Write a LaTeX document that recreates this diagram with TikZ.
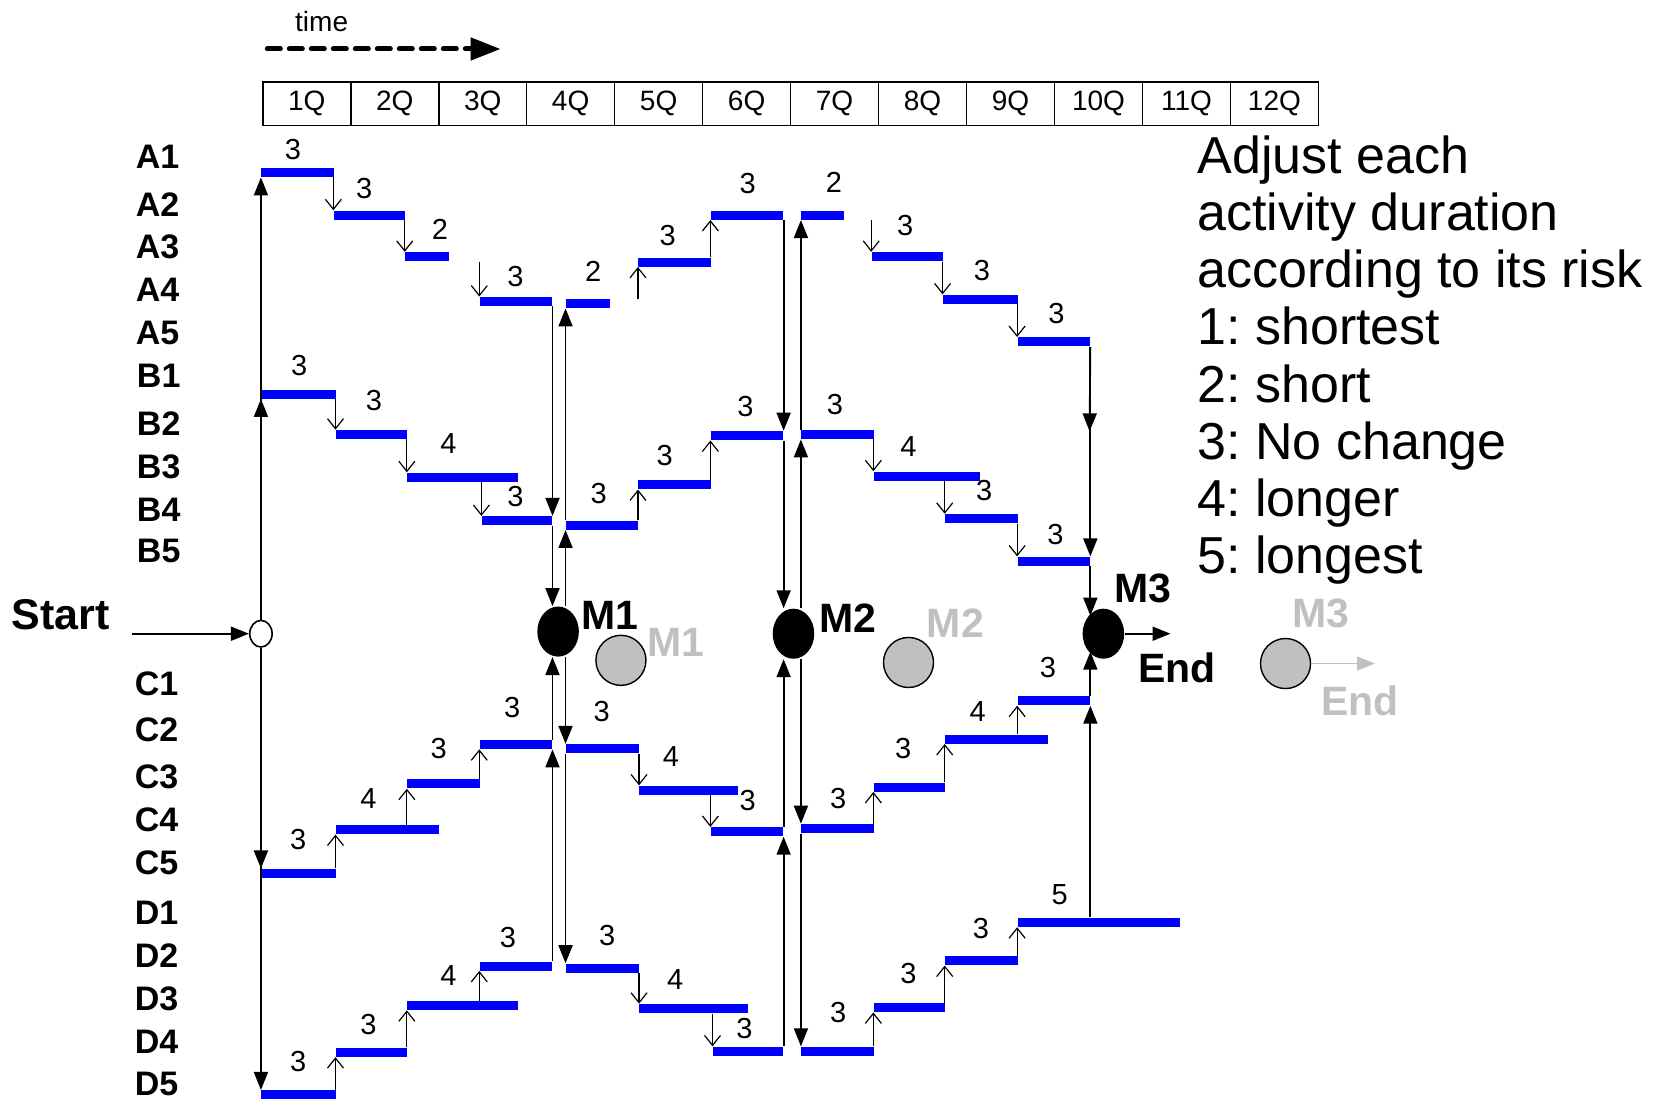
\documentclass[tikz,border=0pt]{standalone}
\usepackage{fontspec}
\setmainfont{Liberation Sans}
\usetikzlibrary{arrows.meta,positioning,shapes.geometric}
\definecolor{silver}{RGB}{192,192,192}
\frenchspacing
\tikzset{
  actbar/.style={rectangle, fill=blue, inner sep=0pt, minimum height=4.5pt, minimum width=#1*0.5325pt, anchor=west},
  num/.style={inner sep=0pt, font=\fontsize{14.5}{16}\selectfont},
  row/.style={inner sep=0pt, font=\fontsize{17}{19}\selectfont\bfseries},
  mlabel/.style={inner sep=0pt, font=\fontsize{20.5}{22}\selectfont\bfseries},
  link/.style={line width=0.6pt, -{Straight Barb[length=5pt,width=8pt]}},
  flow/.style={line width=0.9pt, -{Triangle[length=9pt,width=7pt]}},
  qbox/.style={draw, line width=0.8pt, inner sep=0pt, outer sep=0pt, minimum width=82.6*0.5325pt, minimum height=41*0.5325pt, font=\fontsize{14}{16}\selectfont},
  mnode/.style={ellipse, fill=black, inner sep=0pt, minimum width=39*0.5325pt, minimum height=47*0.5325pt},
  ghost/.style={circle, draw, line width=0.7pt, fill=silver, inner sep=0pt, minimum size=47*0.5325pt},
  legend/.style={anchor=north west, inner sep=0pt, align=left, font=\fontsize{26}{28.6}\selectfont},
}
\begin{document}
\begin{tikzpicture}[x=0.5325pt, y=-0.5325pt]
    \useasboundingbox (0,0) rectangle (1568,1033);
    % time axis
    \node[num, font=\fontsize{14}{16}\selectfont] (timelbl) at (302,20) {time};
    \coordinate (timefrom) at (251,46);
    \coordinate (timeto) at (470,46);
    \draw[line width=2.5pt, line cap=round, dash pattern=on 6.5pt off 4.5pt, -{Triangle[length=15pt,width=11pt]}] (timefrom) -- (timeto);
    \node[qbox] (q1) at (288,97.5) {1Q};
    \node[qbox, right=0pt of q1] (q2) {2Q};
    \node[qbox, right=0pt of q2] (q3) {3Q};
    \node[qbox, right=0pt of q3] (q4) {4Q};
    \node[qbox, right=0pt of q4] (q5) {5Q};
    \node[qbox, right=0pt of q5] (q6) {6Q};
    \node[qbox, right=0pt of q6] (q7) {7Q};
    \node[qbox, right=0pt of q7] (q8) {8Q};
    \node[qbox, right=0pt of q8] (q9) {9Q};
    \node[qbox, right=0pt of q9] (q10) {10Q};
    \node[qbox, right=0pt of q10] (q11) {11Q};
    \node[qbox, right=0pt of q11] (q12) {12Q};

    % row names
    \node[row] (rA1) at (148,147) {A1};
    \node[row] (rA2) at (148,192) {A2};
    \node[row] (rA3) at (148,232) {A3};
    \node[row] (rA4) at (148,272) {A4};
    \node[row] (rA5) at (148,313) {A5};
    \node[row] (rB1) at (149,353) {B1};
    \node[row] (rB2) at (149,398) {B2};
    \node[row] (rB3) at (149,438) {B3};
    \node[row] (rB4) at (149,479) {B4};
    \node[row] (rB5) at (149,517) {B5};
    \node[row] (rC1) at (147,642) {C1};
    \node[row] (rC2) at (147,685) {C2};
    \node[row] (rC3) at (147,729) {C3};
    \node[row] (rC4) at (147,770) {C4};
    \node[row] (rC5) at (147,810) {C5};
    \node[row] (rD1) at (147,857) {D1};
    \node[row] (rD2) at (147,897) {D2};
    \node[row] (rD3) at (147,938) {D3};
    \node[row] (rD4) at (147,978) {D4};
    \node[row] (rD5) at (147,1018) {D5};
    \node[mlabel, font=\fontsize{21.5}{23}\selectfont\bfseries] (startlbl) at (57,577) {Start};

    % A activities
    \node[actbar=68] (a11) at (245,162) {};
    \node[actbar=67] (a12) at (313,202) {};
    \node[actbar=41] (a13) at (380,241) {};
    \node[actbar=68] (a14) at (450,283) {};
    \node[actbar=41] (a21) at (531,285) {};
    \node[actbar=68] (a22) at (599,246) {};
    \node[actbar=68] (a23) at (667,202) {};
    \node[actbar=40] (a31) at (752,202) {};
    \node[actbar=67] (a32) at (818,241) {};
    \node[actbar=70] (a33) at (885,281) {};
    \node[actbar=68] (a34) at (955,321) {};
    \node[num] (na11) at (275,140) {3};
    \node[num] (na12) at (342,177) {3};
    \node[num] (na13) at (413,215) {2};
    \node[num] (na14) at (484,260) {3};
    \node[num] (na21) at (557,255) {2};
    \node[num] (na22) at (627,221) {3};
    \node[num] (na23) at (702,172) {3};
    \node[num] (na31) at (783,171) {2};
    \node[num] (na32) at (850,212) {3};
    \node[num] (na33) at (922,254) {3};
    \node[num] (na34) at (992,294) {3};

    % B activities
    \node[actbar=70] (b11) at (245,370) {};
    \node[actbar=67] (b12) at (315,408) {};
    \node[actbar=104] (b13) at (382,448) {};
    \node[actbar=66] (b14) at (452,489) {};
    \node[actbar=68] (b21) at (531,493) {};
    \node[actbar=68] (b22) at (599,455) {};
    \node[actbar=68] (b23) at (667,409) {};
    \node[actbar=68] (b31) at (752,408) {};
    \node[actbar=100] (b32) at (820,447) {};
    \node[actbar=68] (b33) at (887,487) {};
    \node[actbar=68] (b34) at (955,527) {};
    \node[num] (nb11) at (281,343) {3};
    \node[num] (nb12) at (351,376) {3};
    \node[num] (nb13) at (421,416) {4};
    \node[num] (nb14) at (484,466) {3};
    \node[num] (nb21) at (562,463) {3};
    \node[num] (nb22) at (624,428) {3};
    \node[num] (nb23) at (700,382) {3};
    \node[num] (nb31) at (784,380) {3};
    \node[num] (nb32) at (853,419) {4};
    \node[num] (nb33) at (924,461) {3};
    \node[num] (nb34) at (991,502) {3};

    % C activities
    \node[actbar=70] (c11) at (245,820) {};
    \node[actbar=97] (c12) at (315,779) {};
    \node[actbar=68] (c13) at (382,736) {};
    \node[actbar=68] (c14) at (450,699) {};
    \node[actbar=69] (c21) at (531,703) {};
    \node[actbar=93] (c22) at (600,742) {};
    \node[actbar=68] (c23) at (667,781) {};
    \node[actbar=68] (c31) at (752,778) {};
    \node[actbar=67] (c32) at (820,739) {};
    \node[actbar=97] (c33) at (887,694) {};
    \node[actbar=68] (c34) at (955,658) {};
    \node[num] (nc11) at (280,788) {3};
    \node[num] (nc12) at (346,750) {4};
    \node[num] (nc13) at (412,703) {3};
    \node[num] (nc14) at (481,664) {3};
    \node[num] (nc21) at (565,668) {3};
    \node[num] (nc22) at (630,710) {4};
    \node[num] (nc23) at (702,752) {3};
    \node[num] (nc31) at (787,750) {3};
    \node[num] (nc32) at (848,703) {3};
    \node[num] (nc33) at (918,668) {4};
    \node[num] (nc34) at (984,627) {3};

    % D activities
    \node[actbar=70] (d11) at (245,1028) {};
    \node[actbar=67] (d12) at (315,988) {};
    \node[actbar=104] (d13) at (382,944) {};
    \node[actbar=68] (d14) at (450,907) {};
    \node[actbar=69] (d21) at (531,909) {};
    \node[actbar=102] (d22) at (600,947) {};
    \node[actbar=66] (d23) at (669,987) {};
    \node[actbar=68] (d31) at (752,987) {};
    \node[actbar=67] (d32) at (820,946) {};
    \node[actbar=68] (d33) at (887,902) {};
    \node[actbar=153] (d34) at (955,866) {};
    \node[num] (nd11) at (280,997) {3};
    \node[num] (nd12) at (346,962) {3};
    \node[num] (nd13) at (421,916) {4};
    \node[num] (nd14) at (477,880) {3};
    \node[num] (nd21) at (570,878) {3};
    \node[num] (nd22) at (634,920) {4};
    \node[num] (nd23) at (699,966) {3};
    \node[num] (nd31) at (787,951) {3};
    \node[num] (nd32) at (853,914) {3};
    \node[num] (nd33) at (921,872) {3};
    \node[num] (nd34) at (995,840) {5};

    % steps inside each phase
    \draw[link] (a12.north west |- a11.south) -- (a12.north west);
    \draw[link] (a13.north west |- a12.south) -- (a13.north west);
    \draw[link] (a14.north west |- a13.south) -- (a14.north west);
    \draw[link] (a22.south west |- a21.north) -- (a22.south west);
    \draw[link] (a23.south west |- a22.north) -- (a23.south west);
    \draw[link] (a32.north west |- a31.south) -- (a32.north west);
    \draw[link] (a33.north west |- a32.south) -- (a33.north west);
    \draw[link] (a34.north west |- a33.south) -- (a34.north west);
    \draw[link] (b12.north west |- b11.south) -- (b12.north west);
    \draw[link] (b13.north west |- b12.south) -- (b13.north west);
    \draw[link] (b14.north west |- b13.south) -- (b14.north west);
    \draw[link] (b22.south west |- b21.north) -- (b22.south west);
    \draw[link] (b23.south west |- b22.north) -- (b23.south west);
    \draw[link] (b32.north west |- b31.south) -- (b32.north west);
    \draw[link] (b33.north west |- b32.south) -- (b33.north west);
    \draw[link] (b34.north west |- b33.south) -- (b34.north west);
    \draw[link] (c12.south west |- c11.north) -- (c12.south west);
    \draw[link] (c13.south west |- c12.north) -- (c13.south west);
    \draw[link] (c14.south west |- c13.north) -- (c14.south west);
    \draw[link] (c22.north west |- c21.south) -- (c22.north west);
    \draw[link] (c23.north west |- c22.south) -- (c23.north west);
    \draw[link] (c32.south west |- c31.north) -- (c32.south west);
    \draw[link] (c33.south west |- c32.north) -- (c33.south west);
    \draw[link] (c34.south west |- c33.north) -- (c34.south west);
    \draw[link] (d12.south west |- d11.north) -- (d12.south west);
    \draw[link] (d13.south west |- d12.north) -- (d13.south west);
    \draw[link] (d14.south west |- d13.north) -- (d14.south west);
    \draw[link] (d22.north west |- d21.south) -- (d22.north west);
    \draw[link] (d23.north west |- d22.south) -- (d23.north west);
    \draw[link] (d32.south west |- d31.north) -- (d32.south west);
    \draw[link] (d33.south west |- d32.north) -- (d33.south west);
    \draw[link] (d34.south west |- d33.north) -- (d34.south west);

    % milestones
    \node[mnode] (m1) at (524,593) {};
    \node[mnode] (m2) at (745,595) {};
    \node[mnode] (m3) at (1036,595) {};
    \node[mlabel] (m1lbl) at (573,578) {M1};
    \node[mlabel] (m2lbl) at (796,580) {M2};
    \node[mlabel] (m3lbl) at (1073,552) {M3};
    \node[mlabel] (endlbl) at (1105,627) {End};
    \node[ghost] (g1) at (583,620) {};
    \node[ghost] (g2) at (853,622) {};
    \node[ghost] (g3) at (1207,623) {};
    \node[mlabel, text=silver] (g1lbl) at (635,603) {M1};
    \node[mlabel, text=silver] (g2lbl) at (897,585) {M2};
    \node[mlabel, text=silver] (g3lbl) at (1240,576) {M3};
    \node[mlabel, text=silver] (gendlbl) at (1277,658) {End};
    \coordinate (gendtip) at (1291,623);
    \draw[flow, line width=0.7pt, draw=silver] (g3.east) -- (gendtip);

    % start
    \node[ellipse, draw, fill=white, line width=0.8pt, inner sep=0pt, minimum width=21*0.5325pt, minimum height=25*0.5325pt] (start) at (245,595) {};
    \coordinate (startin) at (124,595);
    \draw[flow] (startin) -- (start.west);
    \draw[flow] (start.north) -- (a11.south west);
    \draw[flow] (start.north) -- (b11.south west);
    \draw[flow] (start.south) -- (c11.north west);
    \draw[flow] (start.south) -- (d11.north west);

    % into and out of M1
    \draw[flow] (a14.south east) -- (b14.north east);
    \draw[flow] (b14.south east) -- (b14.south east |- m1.north);
    \draw[flow] (m1.north -| b21.west) -- (b21.south west);
    \draw[flow] (b21.north west) -- (a21.south west);
    \draw[flow] (d14.north east) -- (c14.south east);
    \draw[flow] (c14.north east) -- (c14.east |- m1.south);
    \draw[flow] (m1.south -| c21.west) -- (c21.north west);
    \draw[flow] (c21.south west) -- (d21.north west);

    % into and out of M2
    \draw[flow] (a23.south east) -- (b23.north east);
    \draw[flow] (b23.south east) -- (b23.south east |- m2.north);
    \draw[flow] (m2.north -| b31.west) -- (b31.south west);
    \draw[flow] (b31.north west) -- (a31.south west);
    \draw[flow] (d23.north east) -- (c23.south east);
    \draw[flow] (c23.north east) -- (c23.east |- m2.south);
    \draw[flow] (m2.south -| c31.west) -- (c31.north west);
    \draw[flow] (c31.south west) -- (d31.north west);

    % into M3 and out to the end
    \coordinate (a34mid) at (1023,405);
    \draw[flow] (a34.south east) -- (a34mid);
    \draw[flow] (a34.south east) -- (b34.north east);
    \draw[flow] (b34.south east) -- (b34.south east |- m3.north west);
    \draw[flow] (c34.south east |- d34.north) -- (c34.south east);
    \draw[flow] (c34.north east) -- (c34.east |- m3.south west);
    \coordinate (endtip) at (1099,595);
    \draw[flow] (m3.east) -- (endtip);

    % scale of adjustments
    \node[legend] (legend) at (1124,127) {Adjust each\\activity duration\\according to its risk\\1: shortest\\2: short\\3: No change\\4: longer\\5: longest};
\end{tikzpicture}
\end{document}
